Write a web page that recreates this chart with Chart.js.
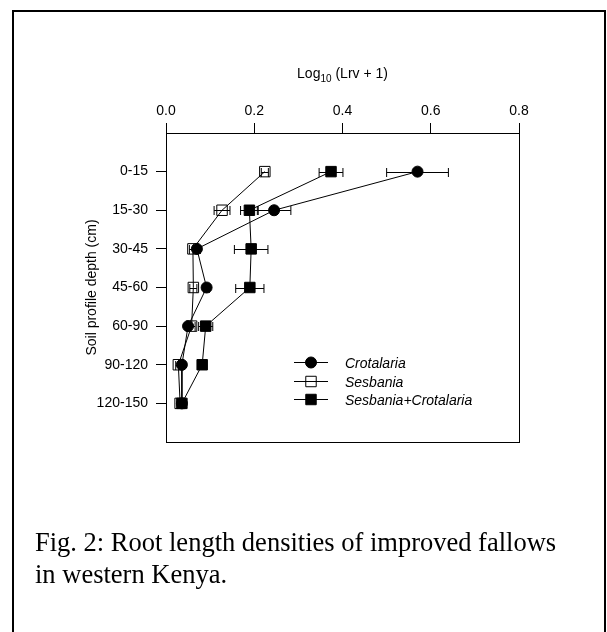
<!DOCTYPE html>
<html>
<head>
<meta charset="utf-8">
<script src="https://cdn.jsdelivr.net/npm/chart.js@4"></script>
<style>
  html, body { margin: 0; padding: 0; background: #fff; }
  #wrap { position: relative; width: 607px; height: 632px; overflow: hidden; }
  #frame { position: absolute; left: 12px; top: 10px; width: 590px; height: 650px; border: 2px solid #000; }
  #grafico { position: absolute; left: 0; top: 0; }
  #legenda {
    position: absolute; left: 35px; top: 526px;
    font-family: "Liberation Serif", "Times New Roman", serif;
    font-size: 26.5px; line-height: 32px; color: #000;
  }
</style>
</head>
<body>
<div id="wrap">
  <div id="frame"></div>
  <canvas id="grafico" width="607" height="632"></canvas>
  <div id="legenda">Fig. 2: Root length densities of improved fallows<br>in western Kenya.</div>
</div>
<script>
// Dados
const profundidades = ['0-15', '15-30', '30-45', '45-60', '60-90', '90-120', '120-150'];
const crotalaria = [0.57, 0.245, 0.07, 0.092, 0.05, 0.036, 0.036];
const crotalariaErro = [0.07, 0.038, 0.008, 0.006, 0.006, 0.006, 0.005];
const sesbania = [0.224, 0.127, 0.061, 0.062, 0.058, 0.028, 0.032];
const sesbaniaErro = [0.008, 0.018, 0.008, 0.008, 0.008, 0.006, 0.006];
const mistura = [0.374, 0.189, 0.193, 0.19, 0.09, 0.082, 0.036];
const misturaErro = [0.027, 0.02, 0.038, 0.032, 0.016, 0.01, 0.008];
const xTicks = [0, 0.2, 0.4, 0.6, 0.8];

const FONTE = '"Liberation Sans", Arial, sans-serif';

function pontos(valores) {
  return valores.map((v, i) => ({ x: v, y: i }));
}

function serie(nome, valores, erros, estilo, raio, fundo) {
  return {
    label: nome,
    data: pontos(valores),
    erros: erros,
    borderColor: '#000',
    borderWidth: 1,
    pointStyle: estilo,
    pointRadius: raio,
    pointHoverRadius: raio,
    pointBackgroundColor: fundo,
    pointBorderColor: '#000',
    pointBorderWidth: 1,
    tension: 0,
    fill: false
  };
}

// barras de erro horizontais
const barrasErro = {
  id: 'barrasErro',
  beforeDatasetsDraw(chart) {
    const { ctx } = chart;
    const xs = chart.scales.x, ys = chart.scales.y;
    ctx.save();
    ctx.strokeStyle = '#000';
    ctx.lineWidth = 1;
    chart.data.datasets.forEach(ds => {
      ds.data.forEach((p, i) => {
        const e = ds.erros[i];
        const y = Math.round(ys.getPixelForValue(p.y)) + 0.5;
        const x1 = xs.getPixelForValue(p.x - e);
        const x2 = xs.getPixelForValue(p.x + e);
        ctx.beginPath();
        ctx.moveTo(x1, y); ctx.lineTo(x2, y);
        ctx.moveTo(x1, y - 4.5); ctx.lineTo(x1, y + 4.5);
        ctx.moveTo(x2, y - 4.5); ctx.lineTo(x2, y + 4.5);
        ctx.stroke();
      });
    });
    ctx.restore();
  }
};

// moldura, títulos e legenda
const extras = {
  id: 'extras',
  afterDraw(chart) {
    const { ctx, chartArea } = chart;
    ctx.save();
    ctx.strokeStyle = '#000';
    ctx.lineWidth = 1;
    ctx.strokeRect(Math.round(chartArea.left) + 0.5, Math.round(chartArea.top) + 0.5,
      Math.round(chartArea.right - chartArea.left), Math.round(chartArea.bottom - chartArea.top));

    ctx.fillStyle = '#000';
    ctx.textBaseline = 'alphabetic';

    // título do eixo x: Log10 (Lrv + 1)
    const cx = (chartArea.left + chartArea.right) / 2;
    ctx.font = '14px ' + FONTE;
    const w1 = ctx.measureText('Log').width;
    const w3 = ctx.measureText(' (Lrv + 1)').width;
    ctx.font = '10px ' + FONTE;
    const w2 = ctx.measureText('10').width;
    let x = cx - (w1 + w2 + w3) / 2;
    ctx.font = '14px ' + FONTE;
    ctx.textAlign = 'left';
    ctx.fillText('Log', x, 78);
    ctx.font = '10px ' + FONTE;
    ctx.fillText('10', x + w1, 82);
    ctx.font = '14px ' + FONTE;
    ctx.fillText(' (Lrv + 1)', x + w1 + w2, 78);

    // título do eixo y
    ctx.save();
    ctx.translate(96, (chartArea.top + chartArea.bottom) / 2);
    ctx.rotate(-Math.PI / 2);
    ctx.textAlign = 'center';
    ctx.fillText('Soil profile depth (cm)', 0, 0);
    ctx.restore();

    // legenda
    chart.data.datasets.forEach((ds, i) => {
      const y = Math.round(362 + i * 18.5) + 0.5;
      ctx.strokeStyle = '#000';
      ctx.beginPath();
      ctx.moveTo(294, y);
      ctx.lineTo(328, y);
      ctx.stroke();
      ctx.fillStyle = ds.pointBackgroundColor;
      Chart.helpers.drawPoint(ctx, {
        pointStyle: ds.pointStyle, radius: ds.pointRadius, borderWidth: 1
      }, 311, y);
      ctx.fillStyle = '#000';
      ctx.font = 'italic 14px ' + FONTE;
      ctx.textAlign = 'left';
      ctx.fillText(ds.label, 345, y + 5);
    });
    ctx.restore();
  }
};

const ctx = document.getElementById('grafico').getContext('2d');

const grafico = new Chart(ctx, {
  type: 'line',
  data: {
    datasets: [
      serie('Crotalaria', crotalaria, crotalariaErro, 'circle', 5.5, '#000'),
      serie('Sesbania', sesbania, sesbaniaErro, 'rect', 7.4, 'rgba(255,255,255,0)'),
      serie('Sesbania+Crotalaria', mistura, misturaErro, 'rect', 7.4, '#000')
    ]
  },
  options: {
    responsive: false,
    animation: false,
    devicePixelRatio: 1,
    layout: { padding: { left: 40, right: 88, top: 93, bottom: 190 } },
    plugins: {
      legend: { display: false },
      tooltip: { enabled: false }
    },
    scales: {
      x: {
        type: 'linear',
        position: 'top',
        min: 0,
        max: 0.8,
        afterBuildTicks: axis => { axis.ticks = xTicks.map(v => ({ value: v })); },
        afterFit: axis => { axis.height = 40; },
        ticks: {
          color: '#000',
          font: { family: FONTE, size: 14 },
          padding: 3,
          callback: v => Number(v).toFixed(1)
        },
        grid: { drawOnChartArea: false, drawTicks: true, tickLength: 10, color: '#000' },
        border: { color: '#000', width: 1 }
      },
      y: {
        type: 'linear',
        reverse: true,
        min: -1,
        max: 7,
        afterBuildTicks: axis => { axis.ticks = profundidades.map((c, i) => ({ value: i })); },
        afterFit: axis => { axis.width = 126; },
        ticks: {
          color: '#000',
          font: { family: FONTE, size: 14 },
          padding: 8,
          callback: v => profundidades[v]
        },
        grid: { drawOnChartArea: false, drawTicks: true, tickLength: 10, color: '#000' },
        border: { color: '#000', width: 1 }
      }
    }
  },
  plugins: [barrasErro, extras]
});
</script>
</body>
</html>
